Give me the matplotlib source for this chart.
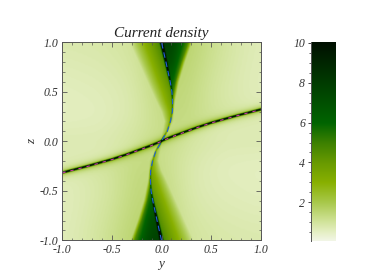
import numpy as np
import matplotlib
matplotlib.use("Agg")
import matplotlib.pyplot as plt
from matplotlib.colors import LinearSegmentedColormap, Normalize
from matplotlib.ticker import MultipleLocator, FixedLocator

# colour scale
cb_vals = [0.07, 0.5, 1.0, 2.0, 3.0, 4.0, 5.0, 6.0, 7.0, 8.0, 10.05]
cb_cols = ['#f2f6e6', '#e5efc4', '#d2e49c', '#a8c84a', '#88b000', '#689a00',
           '#3c8000', '#006400', '#005000', '#003c00', '#000f00']

# current sheet: z along y (y > 0 half, other half is the 180 degree rotation)
sheet_y = [0.0, 0.05, 0.1, 0.2, 0.35, 0.5, 0.75, 1.0]
sheet_z = [0.0, 0.022, 0.043, 0.08, 0.135, 0.185, 0.255, 0.32]

# spine: y along z (z > 0 half)
spine_z = [0.0, 0.03, 0.1, 0.2, 0.3, 0.4, 0.5, 0.6, 0.8, 1.0]
spine_y = [0.0, 0.015, 0.058, 0.09, 0.11, 0.112, 0.105, 0.088, 0.045, 0.0]
spine_amp = [5.0, 3.0, 1.6, 1.5, 1.5, 1.8, 2.5, 4.0, 8.0, 12.0]
spine_wid = [0.008, 0.008, 0.008, 0.008, 0.008, 0.008, 0.008, 0.009, 0.011, 0.013]

# wedge edges and strengths above the sheet
wedge_z = [0.05, 0.2, 0.3, 0.4, 0.6, 0.8, 1.0]
left_edge = [0.0, 0.03, 0.0, -0.05, -0.14, -0.23, -0.32]
left_amp = [0.8, 1.7, 2.2, 2.6, 3.0, 3.2, 3.4]
right_edge = [0.05, 0.125, 0.13, 0.14, 0.18, 0.24, 0.31]
right_near = [0.3, 0.8, 1.4, 2.0, 3.2, 4.0, 4.4]
right_far = [0.0, 0.2, 0.5, 0.9, 1.3, 1.6, 1.8]

# smooth background above the sheet
bg_y = [-1.0, -0.6, -0.3, -0.1, 0.1, 0.3, 0.5, 0.75, 1.0]
bg_z = [0.0, 0.25, 0.5, 0.75, 1.0]
bg_val = [
    [0.75, 0.75, 0.95, 1.2, 1.2, 1.1, 0.95, 0.85, 0.9],
    [0.55, 0.60, 0.80, 1.1, 1.4, 1.3, 1.05, 0.85, 0.7],
    [0.58, 0.65, 0.80, 1.2, 1.5, 1.35, 1.0, 0.75, 0.62],
    [0.68, 0.75, 0.90, 1.3, 1.6, 1.45, 1.1, 0.80, 0.62],
    [0.80, 0.85, 1.00, 1.4, 1.7, 1.55, 1.2, 0.85, 0.65],
]
sheet_core = 13.0
sheet_glow = 2.4

tick_labels_major = [-1.0, -0.5, 0.0, 0.5, 1.0]
title_text = 'Current density'
x_text = 'y'
z_text = 'z'

W, H = 375, 277
fig = plt.figure(figsize=(W / 100, H / 100), dpi=100)
plt.rcParams['font.family'] = ['Liberation Serif', 'DejaVu Serif']
ax = fig.add_axes([62.3 / W, 1 - 240.3 / H, 198.4 / W, 198 / H])
cax = fig.add_axes([310.5 / W, 1 - 240.7 / H, 25 / W, 198.7 / H])

cmap = LinearSegmentedColormap.from_list(
    'cur', [((v - cb_vals[0]) / (cb_vals[-1] - cb_vals[0]), c) for v, c in zip(cb_vals, cb_cols)])
norm = Normalize(cb_vals[0], cb_vals[-1])


def sheet(y):
    return np.sign(y) * np.interp(np.abs(y), sheet_y, sheet_z)


# background table resampled on a fine grid and blurred so no table seams show
gy = np.linspace(-1, 1, 401)
gz = np.linspace(0, 1, 201)
rows = np.array([np.interp(gy, bg_y, r) for r in bg_val])
bg_fine = np.array([np.interp(gz, bg_z, rows[:, j]) for j in range(gy.size)]).T
kernel = np.ones(41) / 41
for _ in range(2):
    pad = np.pad(bg_fine, ((0, 0), (20, 20)), mode='edge')
    bg_fine = np.array([np.convolve(r, kernel, mode='valid') for r in pad])
    pad = np.pad(bg_fine, ((20, 20), (0, 0)), mode='edge')
    bg_fine = np.array([np.convolve(c, kernel, mode='valid') for c in pad.T]).T


def upper(y, z):
    """Field above the sheet, from the tables above."""
    f = bg_fine[np.clip(np.rint(z * 200).astype(int), 0, 200),
                np.clip(np.rint((y + 1) * 200).astype(int), 0, 400)]
    s = np.interp(z, spine_z, spine_y)
    le = np.interp(z, wedge_z, left_edge)
    la = np.interp(z, wedge_z, left_amp)
    re = np.interp(z, wedge_z, right_edge)
    rn = np.interp(z, wedge_z, right_near)
    rf = np.interp(z, wedge_z, right_far)
    # left wedge
    tl = np.clip((y - le) / np.maximum(s - le, 1e-3), 0, 1)
    f = f + np.where((y >= le) & (y <= s), la * tl ** 0.85, 0)
    # right wedge with a fairly sharp outer edge
    tr = np.clip((y - s) / np.maximum(re - s, 1e-3), 0, 1)
    edge = np.clip((re - y) / 0.04, 0, 1)
    f = f + np.where(y >= s, (rn * (1 - tr ** 2.4) + rf) * edge, 0)
    # spine core
    amp = np.interp(z, spine_z, spine_amp)
    wid = np.interp(z, spine_z, spine_wid)
    f = f + amp * np.exp(-((y - s) / wid) ** 2)
    return f


n = 300
yy, zz = np.meshgrid(np.linspace(-1, 1, n), np.linspace(-1, 1, n))
above = zz >= sheet(yy)
uy = np.where(above, yy, -yy)
uz = np.where(above, zz, -zz)
field = upper(uy, uz)
d = np.abs(zz - sheet(yy)) / np.sqrt(1 + 0.1)
field = field + sheet_core * np.exp(-(d / 0.008) ** 2) + sheet_glow * np.exp(-d / 0.026)

ax.imshow(field, origin='lower', extent=[-1, 1, -1, 1], cmap=cmap, norm=norm,
          interpolation='bilinear', aspect='auto')

ys = np.array(sheet_y)
zs = np.array(sheet_z)
line_y = np.r_[-ys[::-1], ys[1:]]
line_z = np.r_[-zs[::-1], zs[1:]]
ax.plot(line_y, line_z, color='#c83ca0', lw=0.8, dashes=(3, 4.5))
sy = np.array(spine_y)
sz = np.array(spine_z)
sp_y = np.r_[-sy[::-1], sy[1:]]
sp_z = np.r_[-sz[::-1], sz[1:]]
ax.plot(sp_y, sp_z, color='#2060d8', lw=0.8, dashes=(5, 3.5))

ax.set_xlim(-1, 1)
ax.set_ylim(-1, 1)
gray = '#555555'
for a in (ax, cax):
    for sp in a.spines.values():
        sp.set_color(gray)
        sp.set_linewidth(0.7)
ax.xaxis.set_major_locator(FixedLocator(tick_labels_major))
ax.yaxis.set_major_locator(FixedLocator(tick_labels_major))
ax.xaxis.set_minor_locator(MultipleLocator(0.1))
ax.yaxis.set_minor_locator(MultipleLocator(0.1))
ax.tick_params(which='major', direction='in', length=3.5, width=0.6, color=gray, top=True, right=True,
               labelsize=8.5, labelcolor='#333333', pad=3)
ax.tick_params(which='minor', direction='in', length=1.8, width=0.5, color=gray, top=True, right=True)
ax.set_xticklabels([f'{v:.1f}' for v in tick_labels_major], style='italic')
ax.set_yticklabels([f'{v:.1f}' for v in tick_labels_major], style='italic')
ax.set_title(title_text, style='italic', fontsize=11, pad=4, color='#222222')
ax.set_xlabel(x_text, style='italic', fontsize=9.5, labelpad=1, color='#333333')
ax.set_ylabel(z_text, style='italic', fontsize=9.5, labelpad=1, color='#333333')

grad = np.linspace(cb_vals[0], cb_vals[-1], 256).reshape(-1, 1)
cax.imshow(grad, origin='lower', extent=[0, 1, cb_vals[0], cb_vals[-1]], cmap=cmap, norm=norm,
           aspect='auto')
cax.set_xticks([])
cax.set_yticks([2, 4, 6, 8, 10])
cax.yaxis.set_minor_locator(MultipleLocator(0.5))
cax.tick_params(which='major', direction='out', length=2, width=0.6, color='#222222', labelsize=8.5, pad=2,
                labelcolor='#333333')
cax.tick_params(which='minor', direction='out', length=1.2, width=0.5, color='#222222')
cax.set_yticklabels(['2', '4', '6', '8', '10'], style='italic')
for k in ('top', 'bottom', 'right'):
    cax.spines[k].set_visible(False)

fig.savefig('out.png', dpi=100)
